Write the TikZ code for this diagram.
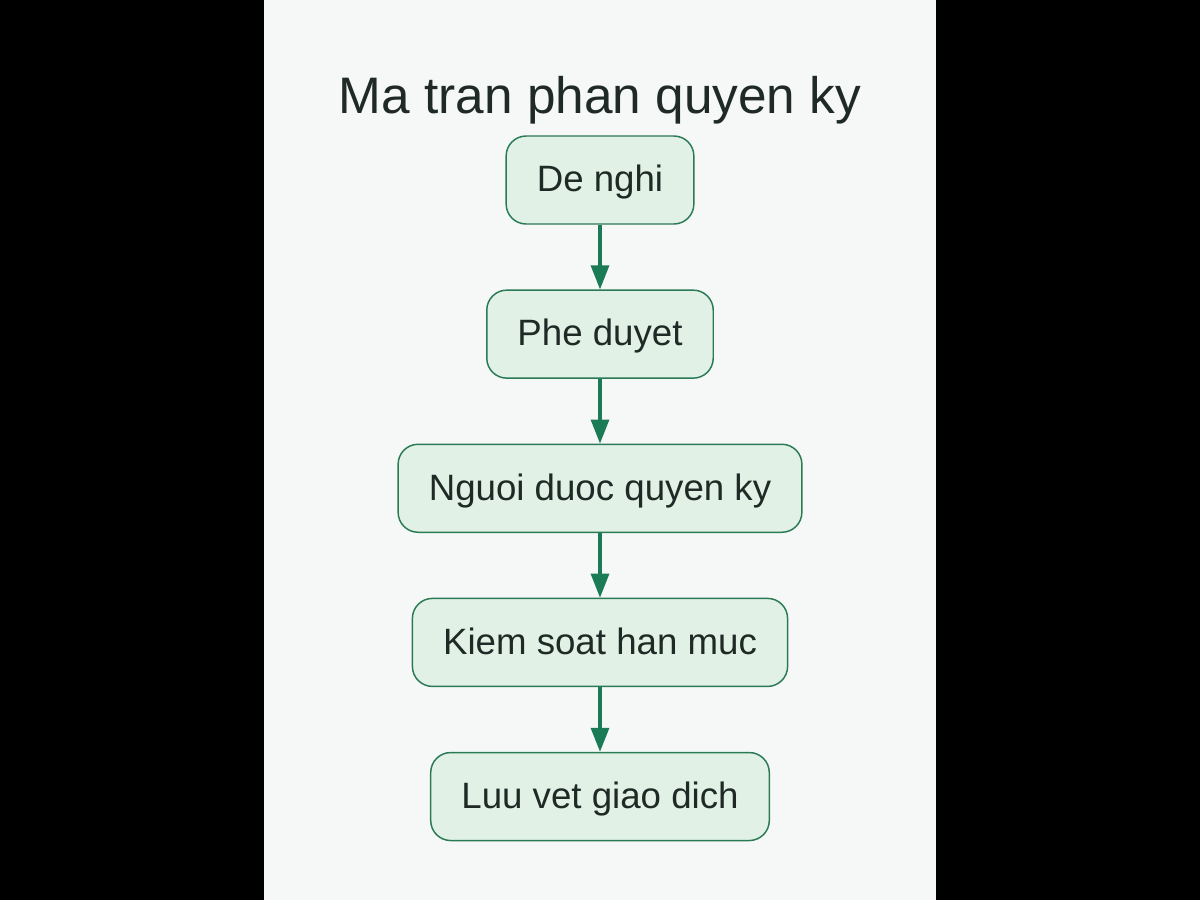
\documentclass[tikz,border=0pt]{standalone}
\usepackage{fontspec}
\setmainfont{Liberation Sans}
\usetikzlibrary{positioning,arrows.meta}
\definecolor{pagebg}{HTML}{F6F8F7}
\definecolor{boxfill}{HTML}{E1F1E6}
\definecolor{boxline}{HTML}{2A7A55}
\definecolor{flowline}{HTML}{1B7B56}
\definecolor{inktext}{HTML}{1F2A26}
\begin{document}
\begin{tikzpicture}[
    x=0.75pt, y=-0.75pt,
    step box/.style={
      draw=boxline,
      fill=boxfill,
      line width=1.1pt,
      rounded corners=15pt,
      minimum height=66pt,
      inner xsep=23pt,
      text height=20.6pt,
      text depth=3pt,
      text=inktext,
      font=\fontsize{27.5}{32}\selectfont
    },
    flow/.style={
      draw=flowline,
      line width=2.4pt,
      -{Triangle[length=18pt,width=13.5pt]}
    },
    node distance=48.5pt
  ]

    % Background panel and black side bars
    \fill[black] (0,0) rectangle (1200,900);
    \fill[pagebg] (264,0) rectangle (936,900);

    % Title
    \node[anchor=base, text=inktext, font=\fontsize{38.5}{44}\selectfont] (title) at (600,113) {Ma tran phan quyen ky};

    % Steps
    \node[step box] (propose) at (600,180) {De nghi};
    \node[step box, below=of propose] (approve) {Phe duyet};
    \node[step box, below=of approve] (signer) {Nguoi duoc quyen ky};
    \node[step box, below=of signer] (limit) {Kiem soat han muc};
    \node[step box, below=of limit] (trail) {Luu vet giao dich};

    % Connectors
    \draw[flow] (propose) -- (approve);
    \draw[flow] (approve) -- (signer);
    \draw[flow] (signer) -- (limit);
    \draw[flow] (limit) -- (trail);

\end{tikzpicture}
\end{document}
